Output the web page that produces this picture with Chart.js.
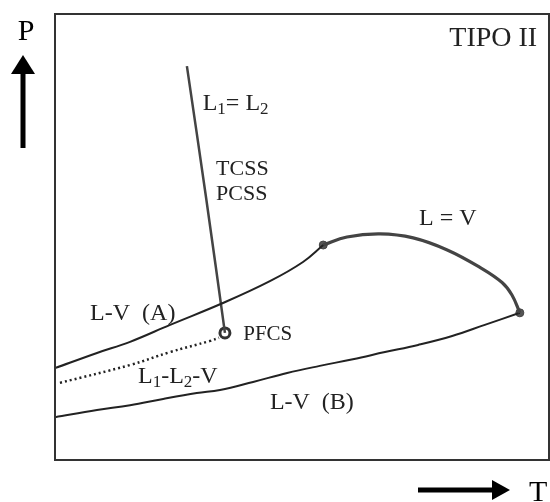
<!DOCTYPE html>
<html>
<head>
<meta charset="utf-8">
<script src="https://cdn.jsdelivr.net/npm/chart.js@4"></script>
<style>
  html, body { margin: 0; padding: 0; background: #fff; overflow: hidden; }
  #wrap { width: 550px; height: 502px; position: relative; }
  canvas { display: block; }
</style>
</head>
<body>
<div id="wrap"><canvas id="c"></canvas></div>
<script>
// ---- Data (T on x axis, P on y axis, arbitrary 0-100 units) ----
const lvA_T = [0, 8.5, 15.2, 23.3, 34.0, 43.5, 50.2, 54.3];
const lvA_P = [20.6, 24.0, 26.5, 30.3, 35.2, 40.1, 44.4, 48.2];

const lEqV_T = [54.3, 59.1, 65.8, 72.5, 79.4, 86.0, 90.5, 92.5, 94.1];
const lEqV_P = [48.2, 50.0, 50.7, 49.8, 47.1, 43.2, 39.8, 37.0, 33.0];

const lvB_T = [0, 8.5, 15.2, 21.9, 28.7, 33.4, 40.1, 47.0, 53.6, 60.3, 66.8, 73.5, 80.4, 87.0, 94.1];
const lvB_P = [9.6, 11.2, 12.3, 13.7, 15.0, 15.7, 17.5, 19.5, 21.1, 22.6, 24.2, 25.8, 27.8, 30.3, 33.0];

const l1l2_T = [26.7, 30.6, 34.4];
const l1l2_P = [88.3, 58.7, 28.5];

const l1l2v_T = [1.0, 15.2, 23.3, 31.4, 33.2];
const l1l2v_P = [17.3, 21.3, 24.2, 26.7, 27.4];

const critT = [54.3, 94.1];   // critical end points
const critP = [48.2, 33.0];

const pfcsT = [34.4];
const pfcsP = [28.5];

// Text labels: parts [text, isSubscript], position in data units, font size, align
const labelParts = [
  [["TIPO II", 0]],
  [["L", 0], ["1", 1], ["= L", 0], ["2", 1]],
  [["TCSS", 0]],
  [["PCSS", 0]],
  [["L = V", 0]],
  [["L-V  (A)", 0]],
  [["PFCS", 0]],
  [["L", 0], ["1", 1], ["-L", 0], ["2", 1], ["-V", 0]],
  [["L-V  (B)", 0]]
];
const labelT = [97.6, 29.9, 32.6, 32.6, 73.7, 7.1, 38.1, 16.8, 43.5];
const labelP = [94.8, 80.3, 65.6, 59.9, 54.5, 33.2, 28.5, 19.1, 13.2];
const labelSize = [28, 24, 22, 22, 24, 24, 21, 24, 24];
const labelAlign = ["right", "left", "left", "left", "left", "left", "left", "left", "left"];

const axisNameP = "P";
const axisNameT = "T";

const pts = (xs, ys) => xs.map((x, i) => ({ x: x, y: ys[i] }));
const FONT = '"Liberation Serif", "DejaVu Serif", serif';
const INK = '#222';

function drawParts(ctx, parts, x, yCenter, size, align) {
  const subSize = Math.round(size * 0.7);
  let total = 0;
  const widths = parts.map(([t, sub]) => {
    ctx.font = (sub ? subSize : size) + 'px ' + FONT;
    const w = ctx.measureText(t).width;
    total += w;
    return w;
  });
  let cx = align === 'right' ? x - total : x;
  const base = yCenter + size * 0.33;
  parts.forEach(([t, sub], i) => {
    ctx.font = (sub ? subSize : size) + 'px ' + FONT;
    ctx.fillText(t, cx, sub ? base + size * 0.16 : base);
    cx += widths[i];
  });
}

const decor = {
  id: 'decor',
  afterDraw(chart) {
    const ctx = chart.ctx;
    const a = chart.chartArea;
    const xs = chart.scales.x, ys = chart.scales.y;
    ctx.save();
    // frame
    ctx.strokeStyle = '#333';
    ctx.lineWidth = 2;
    ctx.strokeRect(a.left, a.top, a.right - a.left, a.bottom - a.top);
    // labels
    ctx.fillStyle = INK;
    ctx.textAlign = 'left';
    ctx.textBaseline = 'alphabetic';
    labelParts.forEach((parts, i) => {
      drawParts(ctx, parts, xs.getPixelForValue(labelT[i]), ys.getPixelForValue(labelP[i]),
        labelSize[i], labelAlign[i]);
    });
    // P axis name + up arrow
    ctx.fillStyle = '#000';
    ctx.font = '30px ' + FONT;
    ctx.textAlign = 'center';
    ctx.fillText(axisNameP, a.left - 29, a.top + 26);
    const ax = a.left - 32;
    ctx.fillRect(ax - 2.5, a.top + 57, 5, 77);
    ctx.beginPath();
    ctx.moveTo(ax, a.top + 41);
    ctx.lineTo(ax - 12, a.top + 60);
    ctx.lineTo(ax + 12, a.top + 60);
    ctx.closePath();
    ctx.fill();
    // T axis name + right arrow
    const ay = a.bottom + 30;
    ctx.fillRect(a.left + 363, ay - 2.5, 77, 5);
    ctx.beginPath();
    ctx.moveTo(a.left + 455, ay);
    ctx.lineTo(a.left + 437, ay - 10);
    ctx.lineTo(a.left + 437, ay + 10);
    ctx.closePath();
    ctx.fill();
    ctx.textAlign = 'left';
    ctx.fillText(axisNameT, a.left + 474, ay + 11);
    ctx.restore();
  }
};

const lineDs = (label, xs, ys, color, width, dash) => ({
  label: label,
  data: pts(xs, ys),
  showLine: true,
  borderColor: color,
  borderWidth: width,
  borderDash: dash || [],
  pointRadius: 0,
  tension: 0.4,
  fill: false
});

new Chart(document.getElementById('c'), {
  type: 'scatter',
  data: {
    datasets: [
      lineDs('L-V (A)', lvA_T, lvA_P, '#222', 2),
      lineDs('L = V', lEqV_T, lEqV_P, '#444', 3.2),
      lineDs('L-V (B)', lvB_T, lvB_P, '#222', 2),
      lineDs('L1 = L2', l1l2_T, l1l2_P, '#444', 2.5),
      Object.assign(lineDs('L1-L2-V', l1l2v_T, l1l2v_P, '#222', 2.5, [2, 3]), { borderCapStyle: 'butt' }),
      {
        label: 'critical points',
        data: pts(critT, critP),
        showLine: false,
        pointRadius: 4,
        pointBackgroundColor: '#555',
        pointBorderColor: '#444',
        pointBorderWidth: 1
      },
      {
        label: 'PFCS',
        data: pts(pfcsT, pfcsP),
        showLine: false,
        pointRadius: 5,
        pointBackgroundColor: '#fff',
        pointBorderColor: '#333',
        pointBorderWidth: 3
      }
    ]
  },
  options: {
    responsive: true,
    maintainAspectRatio: false,
    animation: false,
    layout: { autoPadding: false, padding: { left: 55, top: 14, right: 1, bottom: 42 } },
    plugins: { legend: { display: false }, tooltip: { enabled: false } },
    scales: {
      x: { type: 'linear', min: 0, max: 100, display: false },
      y: { type: 'linear', min: 0, max: 100, display: false }
    }
  },
  plugins: [decor]
});
</script>
</body>
</html>
